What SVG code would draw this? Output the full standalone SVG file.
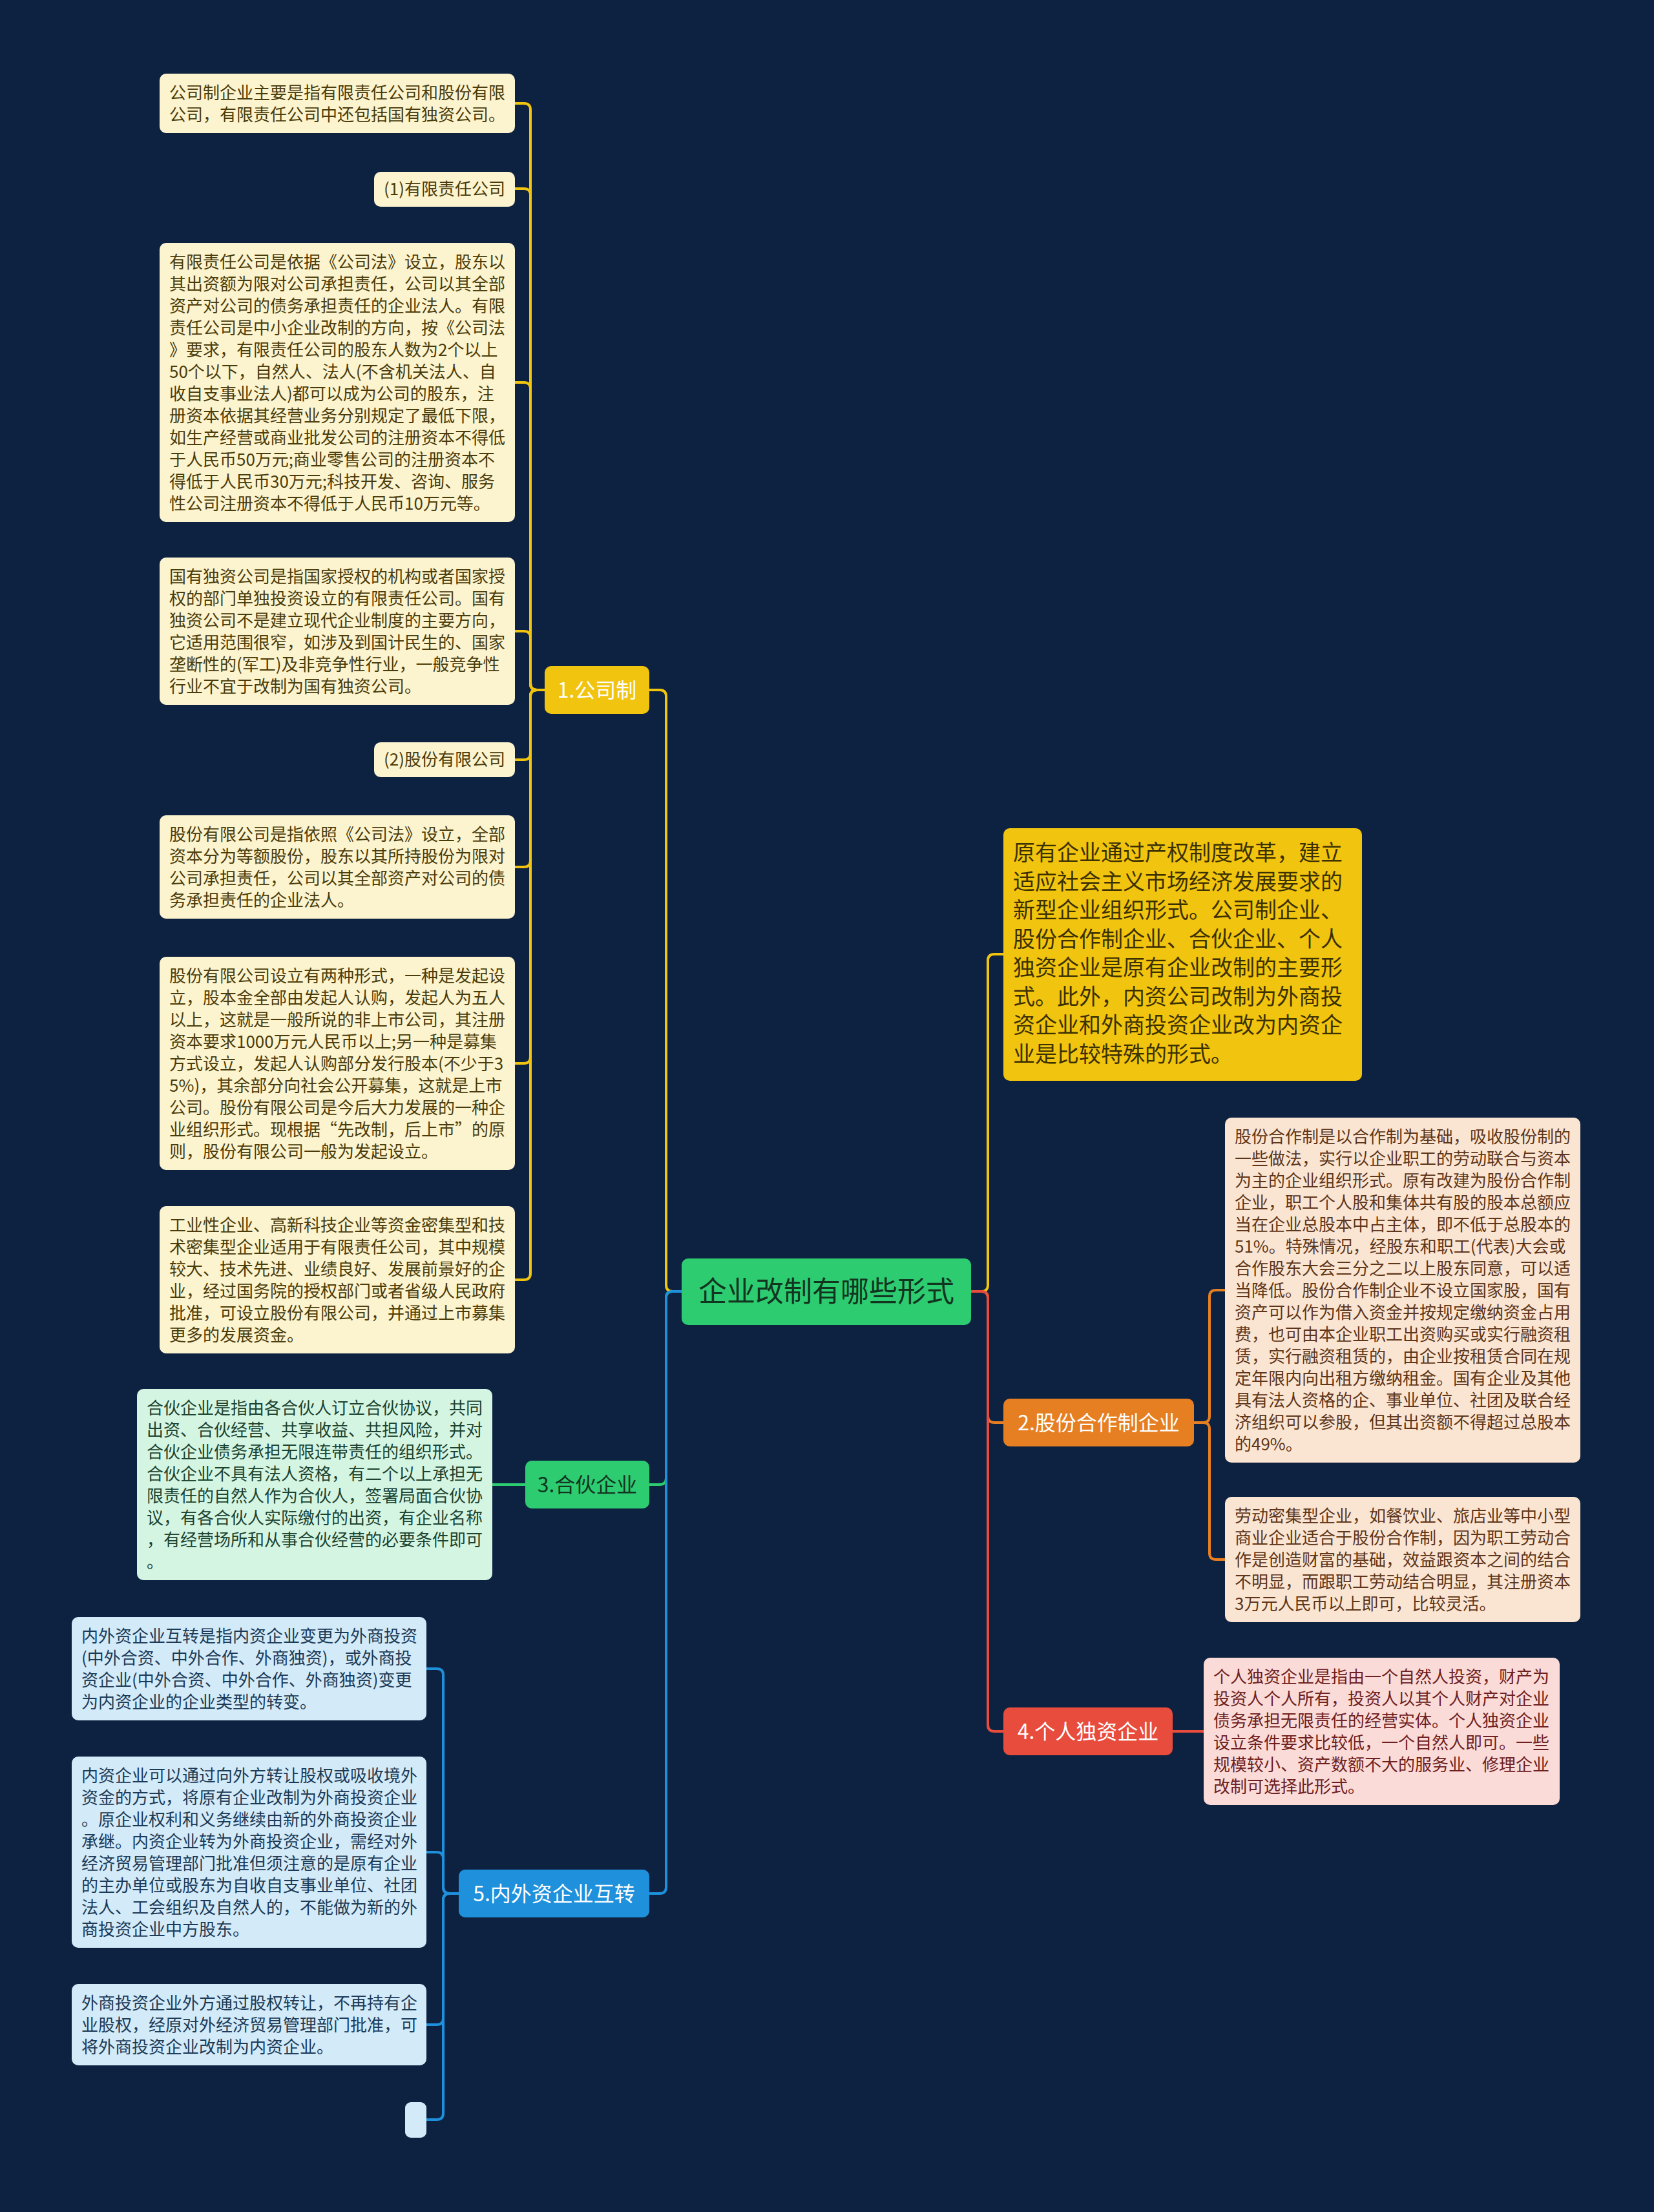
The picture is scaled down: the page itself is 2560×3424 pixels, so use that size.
<svg xmlns="http://www.w3.org/2000/svg" width="2560" height="3424" viewBox="0 0 2560 3424">
<style>
text{font-family:"Noto Sans CJK SC","Liberation Sans",sans-serif}
.lf{font-size:26px}
.ly{fill:#fcf3cf}.tly{fill:#4a3c0a}
.lg{fill:#d5f5e3}.tlg{fill:#1b4330}
.lb{fill:#d3eaf8}.tlb{fill:#1b3a57}
.lo{fill:#fae5d3}.tlo{fill:#5e3518}
.lr{fill:#fadbd8}.tlr{fill:#6e2020}
.br{font-size:32px;text-anchor:middle}
.c{fill:none;stroke-width:4;stroke-linecap:round;stroke-linejoin:round}
.cy{stroke:#f1c40f}.cg{stroke:#2ecc71}.cb{stroke:#1e90dc}.co{stroke:#e67e22}.cr{stroke:#e74c3c}
</style>
<rect x="0" y="0" width="2560" height="3424" fill="#0d2240"/>
<g id="connectors">
<path class="c cy" d="M1055,1999 H1041 Q1031,1999 1031,1989 V1078 Q1031,1068 1021,1068 H1005"/>
<path class="c cg" d="M1055,1999 H1041 Q1031,1999 1031,2009 V2288 Q1031,2298 1021,2298 H1005"/>
<path class="c cb" d="M1055,1999 H1041 Q1031,1999 1031,2009 V2921 Q1031,2931 1021,2931 H1005"/>
<path class="c cy" d="M1503,1999 H1519 Q1529,1999 1529,1989 V1487 Q1529,1477 1539,1477 H1553"/>
<path class="c co" d="M1503,1999 H1519 Q1529,1999 1529,2009 V2192 Q1529,2202 1539,2202 H1553"/>
<path class="c cr" d="M1503,1999 H1519 Q1529,1999 1529,2009 V2670 Q1529,2680 1539,2680 H1553"/>
<path class="c cy" d="M843,1068 H831 Q821,1068 821,1058 V170 Q821,160 811,160 H797"/>
<path class="c cy" d="M843,1068 H831 Q821,1068 821,1058 V302 Q821,292 811,292 H797"/>
<path class="c cy" d="M843,1068 H831 Q821,1068 821,1058 V602 Q821,592 811,592 H797"/>
<path class="c cy" d="M843,1068 H831 Q821,1068 821,1058 V987 Q821,977 811,977 H797"/>
<path class="c cy" d="M843,1068 H831 Q821,1068 821,1078 V1166 Q821,1176 811,1176 H797"/>
<path class="c cy" d="M843,1068 H831 Q821,1068 821,1078 V1332 Q821,1342 811,1342 H797"/>
<path class="c cy" d="M843,1068 H831 Q821,1068 821,1078 V1636 Q821,1646 811,1646 H797"/>
<path class="c cy" d="M843,1068 H831 Q821,1068 821,1078 V1971 Q821,1981 811,1981 H797"/>
<path class="c cg" d="M813,2298 H762"/>
<path class="c cb" d="M710,2931 H696 Q686,2931 686,2921 V2593 Q686,2583 676,2583 H660"/>
<path class="c cb" d="M710,2931 H696 Q686,2931 686,2921 V2877 Q686,2867 676,2867 H660"/>
<path class="c cb" d="M710,2931 H696 Q686,2931 686,2941 V3124 Q686,3134 676,3134 H660"/>
<path class="c cb" d="M710,2931 H696 Q686,2931 686,2941 V3271 Q686,3281 676,3281 H660"/>
<path class="c co" d="M1848,2202 H1862 Q1872,2202 1872,2192 V2007 Q1872,1997 1882,1997 H1896"/>
<path class="c co" d="M1848,2202 H1862 Q1872,2202 1872,2212 V2404 Q1872,2414 1882,2414 H1896"/>
<path class="c cr" d="M1815,2680 H1863"/>
</g>
<g id="root">
<rect x="1055" y="1948" width="448" height="103" rx="10" fill="#2ecc71"/>
<text x="1279" y="2015" font-size="44" text-anchor="middle" fill="#12351f">企业改制有哪些形式</text>
</g>
<g id="b1">
<rect x="843" y="1031" width="162" height="74" rx="10" fill="#f1c40f"/>
<text class="br" x="924" y="1080" fill="#ffffff">1.公司制</text>
</g>
<g id="b3">
<rect x="813" y="2261" width="192" height="74" rx="10" fill="#2ecc71"/>
<text class="br" x="909" y="2310" fill="#12351f">3.合伙企业</text>
</g>
<g id="b5">
<rect x="710" y="2894" width="295" height="74" rx="10" fill="#1e90dc"/>
<text class="br" x="857.5" y="2943" fill="#ffffff">5.内外资企业互转</text>
</g>
<g id="b2">
<rect x="1553" y="2165" width="295" height="74" rx="10" fill="#e67e22"/>
<text class="br" x="1700.5" y="2214" fill="#ffffff">2.股份合作制企业</text>
</g>
<g id="b4">
<rect x="1553" y="2643" width="262" height="74" rx="10" fill="#e74c3c"/>
<text class="br" x="1684" y="2692" fill="#ffffff">4.个人独资企业</text>
</g>
<g id="intro">
<rect x="1553" y="1282" width="555" height="391" rx="10" fill="#f1c40f"/>
<text x="1568" y="1332" font-size="34" fill="#3b3000">
<tspan x="1568">原有企业通过产权制度改革，建立</tspan>
<tspan x="1568" dy="44.5">适应社会主义市场经济发展要求的</tspan>
<tspan x="1568" dy="44.5">新型企业组织形式。公司制企业、</tspan>
<tspan x="1568" dy="44.5">股份合作制企业、合伙企业、个人</tspan>
<tspan x="1568" dy="44.5">独资企业是原有企业改制的主要形</tspan>
<tspan x="1568" dy="44.5">式。此外，内资公司改制为外商投</tspan>
<tspan x="1568" dy="44.5">资企业和外商投资企业改为内资企</tspan>
<tspan x="1568" dy="44.5">业是比较特殊的形式。</tspan>
</text>
</g>
<g id="l1">
<rect class="ly" x="247" y="114" width="550" height="92" rx="10"/>
<text class="lf tly" x="262" y="153">
<tspan x="262">公司制企业主要是指有限责任公司和股份有限</tspan>
<tspan x="262" dy="34">公司，有限责任公司中还包括国有独资公司。</tspan>
</text>
</g>
<g id="l2">
<rect class="ly" x="579" y="266" width="218" height="54" rx="10"/>
<text class="lf tly" x="782" y="302" text-anchor="end">(1)有限责任公司</text>
</g>
<g id="l3">
<rect class="ly" x="247" y="376" width="550" height="432" rx="10"/>
<text class="lf tly" x="262" y="415">
<tspan x="262">有限责任公司是依据《公司法》设立，股东以</tspan>
<tspan x="262" dy="34">其出资额为限对公司承担责任，公司以其全部</tspan>
<tspan x="262" dy="34">资产对公司的债务承担责任的企业法人。有限</tspan>
<tspan x="262" dy="34">责任公司是中小企业改制的方向，按《公司法</tspan>
<tspan x="262" dy="34">》要求，有限责任公司的股东人数为2个以上</tspan>
<tspan x="262" dy="34">50个以下，自然人、法人(不含机关法人、自</tspan>
<tspan x="262" dy="34">收自支事业法人)都可以成为公司的股东，注</tspan>
<tspan x="262" dy="34">册资本依据其经营业务分别规定了最低下限，</tspan>
<tspan x="262" dy="34">如生产经营或商业批发公司的注册资本不得低</tspan>
<tspan x="262" dy="34">于人民币50万元;商业零售公司的注册资本不</tspan>
<tspan x="262" dy="34">得低于人民币30万元;科技开发、咨询、服务</tspan>
<tspan x="262" dy="34">性公司注册资本不得低于人民币10万元等。</tspan>
</text>
</g>
<g id="l4">
<rect class="ly" x="247" y="863" width="550" height="228" rx="10"/>
<text class="lf tly" x="262" y="902">
<tspan x="262">国有独资公司是指国家授权的机构或者国家授</tspan>
<tspan x="262" dy="34">权的部门单独投资设立的有限责任公司。国有</tspan>
<tspan x="262" dy="34">独资公司不是建立现代企业制度的主要方向，</tspan>
<tspan x="262" dy="34">它适用范围很窄，如涉及到国计民生的、国家</tspan>
<tspan x="262" dy="34">垄断性的(军工)及非竞争性行业，一般竞争性</tspan>
<tspan x="262" dy="34">行业不宜于改制为国有独资公司。</tspan>
</text>
</g>
<g id="l5">
<rect class="ly" x="579" y="1149" width="218" height="54" rx="10"/>
<text class="lf tly" x="782" y="1185" text-anchor="end">(2)股份有限公司</text>
</g>
<g id="l6">
<rect class="ly" x="247" y="1262" width="550" height="160" rx="10"/>
<text class="lf tly" x="262" y="1301">
<tspan x="262">股份有限公司是指依照《公司法》设立，全部</tspan>
<tspan x="262" dy="34">资本分为等额股份，股东以其所持股份为限对</tspan>
<tspan x="262" dy="34">公司承担责任，公司以其全部资产对公司的债</tspan>
<tspan x="262" dy="34">务承担责任的企业法人。</tspan>
</text>
</g>
<g id="l7">
<rect class="ly" x="247" y="1481" width="550" height="330" rx="10"/>
<text class="lf tly" x="262" y="1520">
<tspan x="262">股份有限公司设立有两种形式，一种是发起设</tspan>
<tspan x="262" dy="34">立，股本金全部由发起人认购，发起人为五人</tspan>
<tspan x="262" dy="34">以上，这就是一般所说的非上市公司，其注册</tspan>
<tspan x="262" dy="34">资本要求1000万元人民币以上;另一种是募集</tspan>
<tspan x="262" dy="34">方式设立，发起人认购部分发行股本(不少于3</tspan>
<tspan x="262" dy="34">5%)，其余部分向社会公开募集，这就是上市</tspan>
<tspan x="262" dy="34">公司。股份有限公司是今后大力发展的一种企</tspan>
<tspan x="262" dy="34">业组织形式。现根据“先改制，后上市”的原</tspan>
<tspan x="262" dy="34">则，股份有限公司一般为发起设立。</tspan>
</text>
</g>
<g id="l8">
<rect class="ly" x="247" y="1867" width="550" height="228" rx="10"/>
<text class="lf tly" x="262" y="1906">
<tspan x="262">工业性企业、高新科技企业等资金密集型和技</tspan>
<tspan x="262" dy="34">术密集型企业适用于有限责任公司，其中规模</tspan>
<tspan x="262" dy="34">较大、技术先进、业绩良好、发展前景好的企</tspan>
<tspan x="262" dy="34">业，经过国务院的授权部门或者省级人民政府</tspan>
<tspan x="262" dy="34">批准，可设立股份有限公司，并通过上市募集</tspan>
<tspan x="262" dy="34">更多的发展资金。</tspan>
</text>
</g>
<g id="g1">
<rect class="lg" x="212" y="2150" width="550" height="296" rx="10"/>
<text class="lf tlg" x="227" y="2189">
<tspan x="227">合伙企业是指由各合伙人订立合伙协议，共同</tspan>
<tspan x="227" dy="34">出资、合伙经营、共享收益、共担风险，并对</tspan>
<tspan x="227" dy="34">合伙企业债务承担无限连带责任的组织形式。</tspan>
<tspan x="227" dy="34">合伙企业不具有法人资格，有二个以上承担无</tspan>
<tspan x="227" dy="34">限责任的自然人作为合伙人，签署局面合伙协</tspan>
<tspan x="227" dy="34">议，有各合伙人实际缴付的出资，有企业名称</tspan>
<tspan x="227" dy="34">，有经营场所和从事合伙经营的必要条件即可</tspan>
<tspan x="227" dy="34">。</tspan>
</text>
</g>
<g id="n1">
<rect class="lb" x="111" y="2503" width="549" height="160" rx="10"/>
<text class="lf tlb" x="126" y="2542">
<tspan x="126">内外资企业互转是指内资企业变更为外商投资</tspan>
<tspan x="126" dy="34">(中外合资、中外合作、外商独资)，或外商投</tspan>
<tspan x="126" dy="34">资企业(中外合资、中外合作、外商独资)变更</tspan>
<tspan x="126" dy="34">为内资企业的企业类型的转变。</tspan>
</text>
</g>
<g id="n2">
<rect class="lb" x="111" y="2719" width="549" height="296" rx="10"/>
<text class="lf tlb" x="126" y="2758">
<tspan x="126">内资企业可以通过向外方转让股权或吸收境外</tspan>
<tspan x="126" dy="34">资金的方式，将原有企业改制为外商投资企业</tspan>
<tspan x="126" dy="34">。原企业权利和义务继续由新的外商投资企业</tspan>
<tspan x="126" dy="34">承继。内资企业转为外商投资企业，需经对外</tspan>
<tspan x="126" dy="34">经济贸易管理部门批准但须注意的是原有企业</tspan>
<tspan x="126" dy="34">的主办单位或股东为自收自支事业单位、社团</tspan>
<tspan x="126" dy="34">法人、工会组织及自然人的，不能做为新的外</tspan>
<tspan x="126" dy="34">商投资企业中方股东。</tspan>
</text>
</g>
<g id="n3">
<rect class="lb" x="111" y="3071" width="549" height="126" rx="10"/>
<text class="lf tlb" x="126" y="3110">
<tspan x="126">外商投资企业外方通过股权转让，不再持有企</tspan>
<tspan x="126" dy="34">业股权，经原对外经济贸易管理部门批准，可</tspan>
<tspan x="126" dy="34">将外商投资企业改制为内资企业。</tspan>
</text>
</g>
<g id="n4">
<rect class="lb" x="627" y="3254" width="33" height="55" rx="9"/>
</g>
<g id="o1">
<rect class="lo" x="1896" y="1730" width="550" height="534" rx="10"/>
<text class="lf tlo" x="1911" y="1769">
<tspan x="1911">股份合作制是以合作制为基础，吸收股份制的</tspan>
<tspan x="1911" dy="34">一些做法，实行以企业职工的劳动联合与资本</tspan>
<tspan x="1911" dy="34">为主的企业组织形式。原有改建为股份合作制</tspan>
<tspan x="1911" dy="34">企业，职工个人股和集体共有股的股本总额应</tspan>
<tspan x="1911" dy="34">当在企业总股本中占主体，即不低于总股本的</tspan>
<tspan x="1911" dy="34">51%。特殊情况，经股东和职工(代表)大会或</tspan>
<tspan x="1911" dy="34">合作股东大会三分之二以上股东同意，可以适</tspan>
<tspan x="1911" dy="34">当降低。股份合作制企业不设立国家股，国有</tspan>
<tspan x="1911" dy="34">资产可以作为借入资金并按规定缴纳资金占用</tspan>
<tspan x="1911" dy="34">费，也可由本企业职工出资购买或实行融资租</tspan>
<tspan x="1911" dy="34">赁，实行融资租赁的，由企业按租赁合同在规</tspan>
<tspan x="1911" dy="34">定年限内向出租方缴纳租金。国有企业及其他</tspan>
<tspan x="1911" dy="34">具有法人资格的企、事业单位、社团及联合经</tspan>
<tspan x="1911" dy="34">济组织可以参股，但其出资额不得超过总股本</tspan>
<tspan x="1911" dy="34">的49%。</tspan>
</text>
</g>
<g id="o2">
<rect class="lo" x="1896" y="2317" width="550" height="194" rx="10"/>
<text class="lf tlo" x="1911" y="2356">
<tspan x="1911">劳动密集型企业，如餐饮业、旅店业等中小型</tspan>
<tspan x="1911" dy="34">商业企业适合于股份合作制，因为职工劳动合</tspan>
<tspan x="1911" dy="34">作是创造财富的基础，效益跟资本之间的结合</tspan>
<tspan x="1911" dy="34">不明显，而跟职工劳动结合明显，其注册资本</tspan>
<tspan x="1911" dy="34">3万元人民币以上即可，比较灵活。</tspan>
</text>
</g>
<g id="r1">
<rect class="lr" x="1863" y="2566" width="551" height="228" rx="10"/>
<text class="lf tlr" x="1878" y="2605">
<tspan x="1878">个人独资企业是指由一个自然人投资，财产为</tspan>
<tspan x="1878" dy="34">投资人个人所有，投资人以其个人财产对企业</tspan>
<tspan x="1878" dy="34">债务承担无限责任的经营实体。个人独资企业</tspan>
<tspan x="1878" dy="34">设立条件要求比较低，一个自然人即可。一些</tspan>
<tspan x="1878" dy="34">规模较小、资产数额不大的服务业、修理企业</tspan>
<tspan x="1878" dy="34">改制可选择此形式。</tspan>
</text>
</g>
</svg>
